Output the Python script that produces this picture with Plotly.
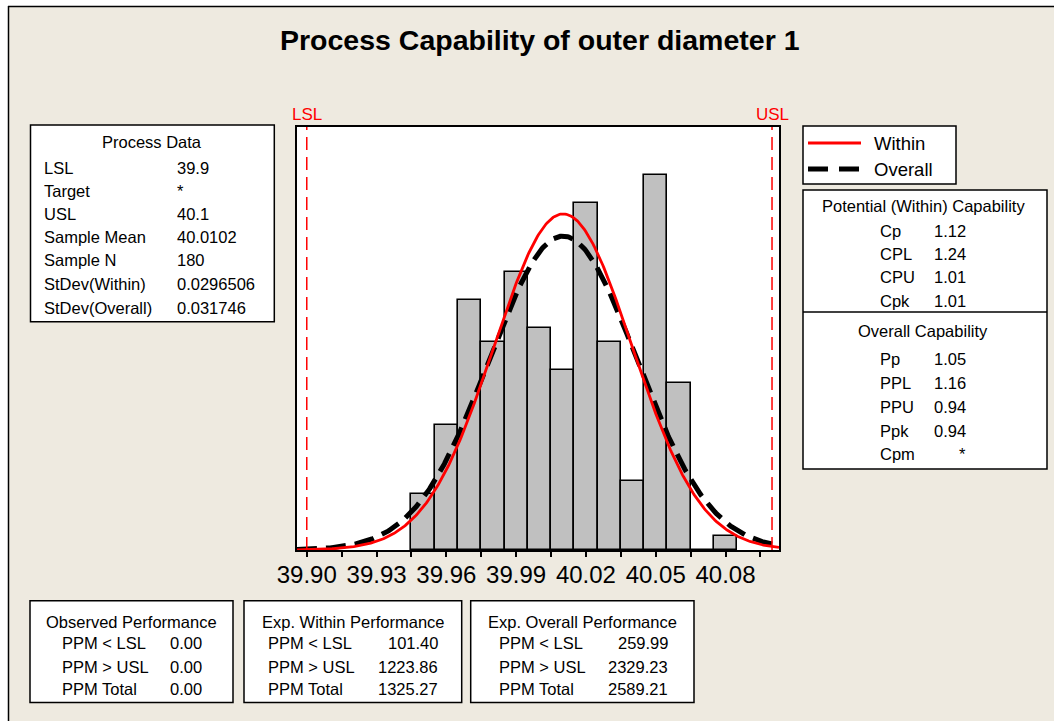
import numpy as np
import plotly.graph_objects as go

# ---- process data ----
lsl = 39.9
usl = 40.1
sample_mean = 40.0102
sample_n = 180
sd_within = 0.0296506
sd_overall = 0.031746
bin_width = 0.01

bin_centers = [39.95, 39.96, 39.97, 39.98, 39.99, 40.00, 40.01,
               40.02, 40.03, 40.04, 40.05, 40.06, 40.07, 40.08]
bin_counts = [4, 9, 18, 15, 20, 16, 13, 25, 15, 5, 27, 12, 0, 1]

tick_values = [39.900, 39.915, 39.930, 39.945, 39.960, 39.975, 39.990,
               40.005, 40.020, 40.035, 40.050, 40.065, 40.080, 40.095]
tick_labels = ["39.90", "", "39.93", "", "39.96", "", "39.99",
               "", "40.02", "", "40.05", "", "40.08", ""]

x_range = [39.8958, 40.1030]
y_range = [0, 30.48]

process_labels = ["LSL", "Target", "USL", "Sample Mean", "Sample N",
                  "StDev(Within)", "StDev(Overall)"]
process_values = ["39.9", "*", "40.1", "40.0102", "180", "0.0296506", "0.031746"]

within_labels = ["Cp", "CPL", "CPU", "Cpk"]
within_values = ["1.12", "1.24", "1.01", "1.01"]
overall_labels = ["Pp", "PPL", "PPU", "Ppk", "Cpm"]
overall_values = ["1.05", "1.16", "0.94", "0.94", "*"]

perf_labels = ["PPM < LSL", "PPM > USL", "PPM Total"]
observed_values = ["0.00", "0.00", "0.00"]
exp_within_values = ["101.40", "1223.86", "1325.27"]
exp_overall_values = ["259.99", "2329.23", "2589.21"]

# ---- page geometry ----
W, H = 1054, 721
BG = "#EEEAE0"
FONT = "Liberation Sans, Arial, sans-serif"
TABLE_SIZE = 16.5


def px(x):
    return x / W


def py(y):
    return 1 - y / H


# fitted normal curves, scaled to counts per bin
xs = np.linspace(x_range[0], x_range[1], 400)


def normal_counts(x, mu, sd):
    return sample_n * bin_width * np.exp(-0.5 * ((x - mu) / sd) ** 2) / (sd * np.sqrt(2 * np.pi))


fig = go.Figure()
fig.add_trace(go.Bar(
    x=bin_centers, y=bin_counts, width=bin_width,
    marker=dict(color="#C0C0C0", line=dict(color="black", width=1.6)),
    showlegend=False, hoverinfo="x+y",
))
fig.add_trace(go.Scatter(
    x=xs, y=normal_counts(xs, sample_mean, sd_overall), mode="lines",
    line=dict(color="black", width=5, dash="20px,9px"), name="Overall",
    showlegend=False,
))
fig.add_trace(go.Scatter(
    x=xs, y=normal_counts(xs, sample_mean, sd_within), mode="lines",
    line=dict(color="#FF0000", width=2.8), name="Within",
    showlegend=False,
))

shapes = []
annotations = []

# white margin strip and frame lines
shapes.append(dict(type="rect", xref="paper", yref="paper", x0=0, x1=1, y0=py(6), y1=1,
                   fillcolor="white", line=dict(width=0), layer="below"))
shapes.append(dict(type="rect", xref="paper", yref="paper", x0=0, x1=px(8), y0=0, y1=1,
                   fillcolor="white", line=dict(width=0), layer="below"))
shapes.append(dict(type="line", xref="paper", yref="paper", x0=px(8), x1=1, y0=py(6.5), y1=py(6.5),
                   line=dict(color="black", width=1.5)))
shapes.append(dict(type="line", xref="paper", yref="paper", x0=px(8.5), x1=px(8.5), y0=0, y1=py(6),
                   line=dict(color="black", width=1.5)))

# specification limits
for val, name in [(lsl, "LSL"), (usl, "USL")]:
    shapes.append(dict(type="line", xref="x", yref="paper", x0=val, x1=val,
                       y0=py(550), y1=py(127),
                       line=dict(color="#FF0000", width=1.5, dash="13px,7px")))
    annotations.append(dict(x=val, y=py(114), xref="x", yref="paper", text=name,
                            showarrow=False, xanchor="center", yanchor="middle",
                            font=dict(family=FONT, size=17, color="#FF0000")))


def box(x0, y0, x1, y1):
    shapes.append(dict(type="rect", xref="paper", yref="paper",
                       x0=px(x0), x1=px(x1), y0=py(y1), y1=py(y0),
                       fillcolor="white", line=dict(color="black", width=1.5)))


def text(x, y, s, anchor="left", size=TABLE_SIZE, color="black", bold=False):
    annotations.append(dict(x=px(x), y=py(y), xref="paper", yref="paper", text=s,
                            showarrow=False, xanchor=anchor, yanchor="middle",
                            font=dict(family=FONT, size=size, color=color,
                                      weight="bold" if bold else "normal")))


# title
text(540, 40, "Process Capability of outer diameter 1", anchor="center", size=28.5, bold=True)

# process data table
box(30.5, 125, 274.3, 321.7)
text(152, 142, "Process Data", anchor="center")
row_y = [168, 190.5, 214, 237, 260, 283.5, 308]
for lab, val, y in zip(process_labels, process_values, row_y):
    text(42, y, lab)
    text(175, y, val)

# legend
box(803, 126, 956, 184)
shapes.append(dict(type="line", xref="paper", yref="paper", x0=px(808), x1=px(861),
                   y0=py(143), y1=py(143), line=dict(color="#FF0000", width=3)))
shapes.append(dict(type="line", xref="paper", yref="paper", x0=px(808), x1=px(861),
                   y0=py(169), y1=py(169), line=dict(color="black", width=5, dash="20px,11px")))
text(872, 143, "Within", size=18.5)
text(872, 169, "Overall", size=18.5)

# capability table
box(803, 190, 1047, 469)
shapes.append(dict(type="line", xref="paper", yref="paper", x0=px(803), x1=px(1047),
                   y0=py(312), y1=py(312), line=dict(color="black", width=1.5)))
text(923, 206, "Potential (Within) Capability", anchor="center")
for lab, val, y in zip(within_labels, within_values, [231, 254, 277, 301]):
    text(878, y, lab)
    text(968, y, val, anchor="right")
text(923, 331, "Overall Capability", anchor="center")
for lab, val, y in zip(overall_labels, overall_values, [359, 383, 407, 431, 454]):
    text(878, y, lab)
    text(968, y, val, anchor="right")

# performance tables
perf_rows = [643, 667, 689]
perf_boxes = [
    ("Observed Performance", observed_values, 30, 233, 60, 204),
    ("Exp. Within Performance", exp_within_values, 244, 461.7, 266, 440),
    ("Exp. Overall Performance", exp_overall_values, 470.7, 694, 497, 670),
]
for title, values, bx0, bx1, lab_x, val_x in perf_boxes:
    box(bx0, 600.7, bx1, 702.5)
    text((bx0 + bx1) / 2, 621.5, title, anchor="center")
    for lab, val, y in zip(perf_labels, values, perf_rows):
        text(lab_x, y, lab)
        text(val_x, y, val, anchor="right")

fig.update_layout(
    width=W, height=H,
    margin=dict(l=0, r=0, t=0, b=0, pad=0, autoexpand=False),
    paper_bgcolor=BG, plot_bgcolor="white",
    bargap=0, showlegend=False,
    shapes=shapes, annotations=annotations,
    xaxis=dict(domain=[px(297), px(779)], range=x_range, automargin=False,
               tickvals=tick_values, ticktext=tick_labels,
               ticks="outside", ticklen=5, tickwidth=1.5, tickcolor="black",
               ticklabelstandoff=-3,
               showline=True, linecolor="black", linewidth=1.5, mirror=True,
               showgrid=False, zeroline=False,
               tickfont=dict(family=FONT, size=24, color="black")),
    yaxis=dict(domain=[py(550), py(127)], range=y_range, automargin=False,
               showticklabels=False, ticks="",
               showline=True, linecolor="black", linewidth=1.5, mirror=True,
               showgrid=False, zeroline=False),
)

fig.write_html("out.html")
